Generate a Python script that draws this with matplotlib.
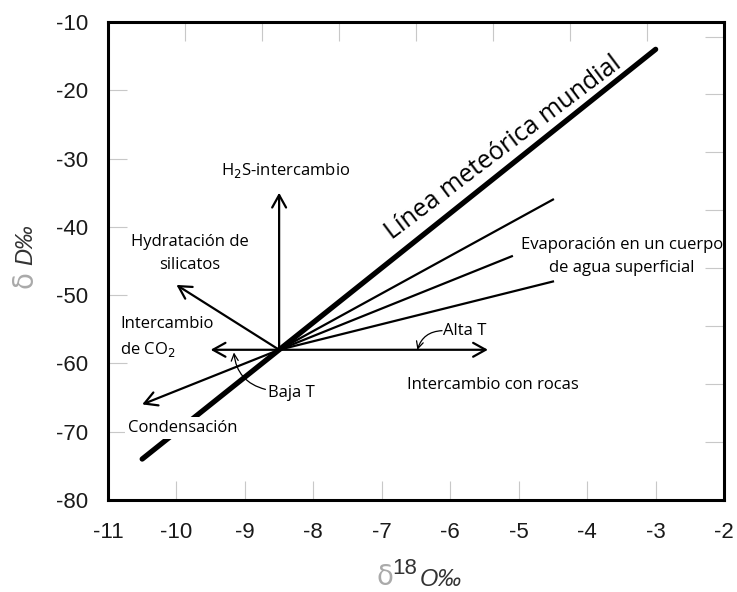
import matplotlib
matplotlib.use('Agg')
import matplotlib.pyplot as plt

plt.rcParams['axes.unicode_minus'] = False

# datos
gmwl_x = [-10.5, -3.0]
gmwl_y = [-74.0, -14.0]
origen = (-8.5, -58.0)
evap_x = [-4.5, -5.1, -4.5]
evap_y = [-36.0, -44.3, -48.0]
flechas = {
    'h2s': (-8.5, -35.0),
    'hidratacion': (-10.0, -48.5),
    'co2': (-9.5, -58.0),
    'condensacion': (-10.5, -66.0),
    'rocas': (-5.45, -58.0),
}
xticks = [-11, -10, -9, -8, -7, -6, -5, -4, -3, -2]
yticks = [-80, -70, -60, -50, -40, -30, -20, -10]

rect = [0.1465, 0.1554, 0.836, 0.8074]
fig = plt.figure(figsize=(7.37, 5.92), dpi=100)

# ejes secundarios (solo marcas grises arriba y a la derecha)
ax2 = fig.add_axes(rect, frameon=False)
ax2.set_xlim(0, 8)
ax2.set_ylim(0, 8.25)
ax2.set_xticks(range(1, 8))
ax2.set_yticks([1, 2, 3, 4, 5, 6, 7, 8])
ax2.tick_params(direction='in', length=14, width=0.8, color='#c8c8c8',
                top=True, right=True, bottom=False, left=False,
                labeltop=False, labelright=False, labelbottom=False, labelleft=False)

ax = fig.add_axes(rect)
ax.patch.set_alpha(0)
ax.set_xlim(-11, -2)
ax.set_ylim(-80, -10)
ax.set_xticks(xticks)
ax.set_yticks(yticks)
ax.tick_params(direction='in', length=14, width=0.8, color='#c8c8c8',
               labelsize=16, labelcolor='#1a1a1a')
ax.tick_params(axis='x', pad=16)
ax.tick_params(axis='y', pad=14)
for lab in ax.get_xticklabels() + ax.get_yticklabels():
    lab.set_family('Liberation Sans')
for s in ax.spines.values():
    s.set_linewidth(2.2)

# linea meteorica
ax.plot(gmwl_x, gmwl_y, color='black', lw=3.8, solid_capstyle='round')
# evaporacion
for x, y in zip(evap_x, evap_y):
    ax.plot([origen[0], x], [origen[1], y], color='black', lw=1.6)

aprops = dict(arrowstyle='->,head_length=0.9,head_width=0.5', lw=1.6,
              color='black', shrinkA=0, shrinkB=0)
for k, p in flechas.items():
    ax.annotate('', xy=p, xytext=origen, arrowprops=aprops)

fuente = 'Open Sans'
fs = 12
ax.text(-8.40, -31.7, 'H$_2$S-intercambio', ha='center', va='center', fontsize=fs, family=fuente)
ax.text(-9.80, -43.9, 'Hydratación de\nsilicatos', ha='center', va='center', fontsize=fs,
        family=fuente, linespacing=1.6)
ax.text(-10.82, -56.2, 'Intercambio\nde CO$_2$', ha='left', va='center', fontsize=fs,
        family=fuente, linespacing=1.6)
ax.text(-8.66, -64.4, 'Baja T', ha='left', va='center', fontsize=fs, family=fuente)
ax.text(-10.71, -69.5, 'Condensación', ha='left', va='center', fontsize=fs, family=fuente,
        bbox=dict(facecolor='white', edgecolor='none', pad=2), zorder=5)
ax.text(-6.63, -63.2, 'Intercambio con rocas', ha='left', va='center', fontsize=fs, family=fuente)
ax.text(-6.10, -55.2, 'Alta T', ha='left', va='center', fontsize=fs, family=fuente)
ax.text(-3.49, -44.3, 'Evaporación en un cuerpo\nde agua superficial', ha='center',
        va='center', fontsize=fs, family=fuente, linespacing=1.6)
ax.text(-5.22, -28.5, 'Línea meteórica mundial', ha='center', va='center', fontsize=18,
        family=fuente, rotation=37, rotation_mode='anchor')

# flechas curvas de temperatura
ax.annotate('', xy=(-6.48, -58.0), xytext=(-6.12, -55.2),
            arrowprops=dict(arrowstyle='->,head_length=0.5,head_width=0.25', lw=0.9,
                            color='black', shrinkA=0, shrinkB=0,
                            connectionstyle='arc3,rad=0.35'))
ax.annotate('', xy=(-9.16, -58.4), xytext=(-8.70, -63.8),
            arrowprops=dict(arrowstyle='->,head_length=0.5,head_width=0.25', lw=0.9,
                            color='black', shrinkA=0, shrinkB=0,
                            connectionstyle='arc3,rad=-0.35'))

# titulos de ejes
fig.text(26 / 737, 1 - 245 / 592, 'D‰', rotation=90, ha='center', va='center',
         fontsize=17, style='italic', family='Liberation Sans', color='#333333')
fig.text(24 / 737, 1 - 280 / 592, 'δ', rotation=90, ha='center', va='center',
         fontsize=20, family='DejaVu Sans', color='#aaaaaa')
fig.text(385 / 737, 1 - 577 / 592, 'δ', ha='center', va='center',
         fontsize=20, family='DejaVu Sans', color='#aaaaaa')
fig.text(405 / 737, 1 - 569 / 592, '18', ha='center', va='center',
         fontsize=16, family='Liberation Sans', color='#333333')
fig.text(441 / 737, 1 - 579 / 592, 'O‰', ha='center', va='center',
         fontsize=17, style='italic', family='Liberation Sans', color='#333333')

fig.savefig('out.png', dpi=100)
